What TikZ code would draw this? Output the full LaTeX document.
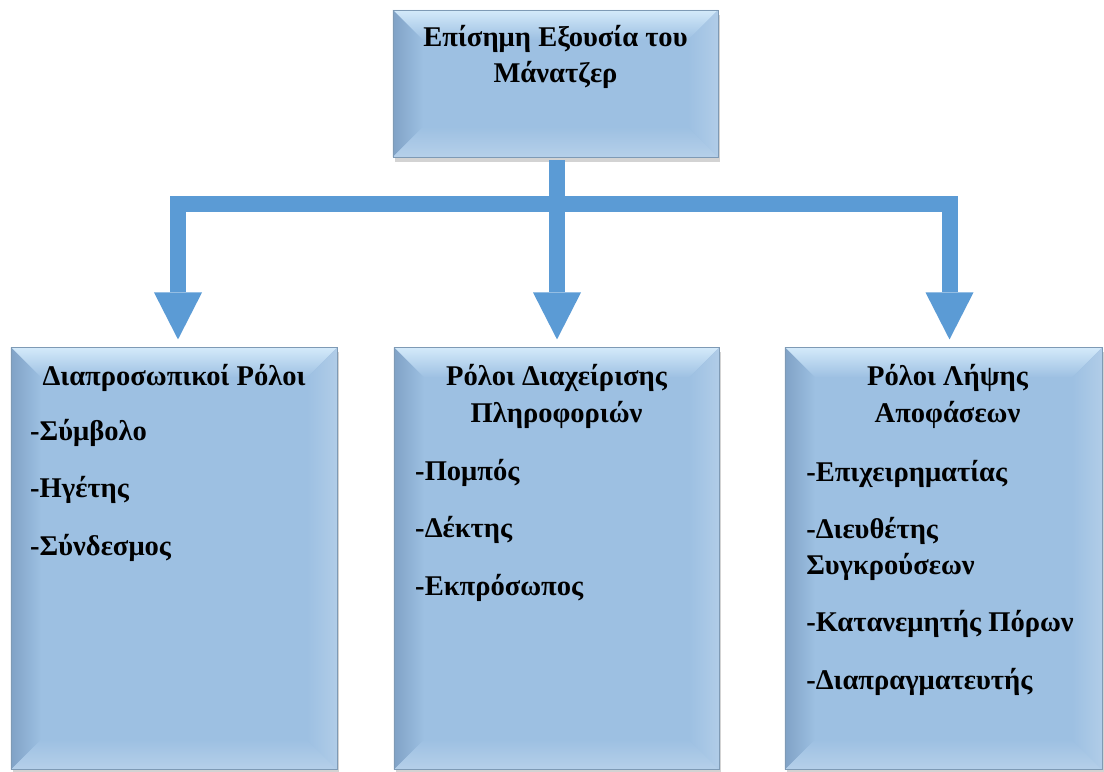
\documentclass[tikz,border=0pt]{standalone}
\usepackage{fontspec}
\setmainfont{Liberation Serif}
\usetikzlibrary{arrows.meta,calc,shadows,positioning}

\definecolor{boxblue}{RGB}{157,192,226}
\definecolor{arrowblue}{RGB}{91,155,213}
\definecolor{bevlight}{RGB}{212,234,250}
\definecolor{bevdark}{RGB}{128,162,198}

\tikzset{
  panel/.style={rectangle, fill=boxblue, inner sep=0pt, outer sep=0pt,
    drop shadow={shadow xshift=0.05cm, shadow yshift=-0.12cm, opacity=0.35}},
  bigarrow/.style={draw=arrowblue, line width=0.4cm, line join=miter,
    -{Triangle[width=1.2cm,length=1.175cm,line width=0pt]}},
  headtxt/.style={font=\bfseries\fontsize{20.3}{26}\selectfont, align=center, inner sep=0pt},
  itemtxt/.style={font=\bfseries\fontsize{20.3}{25}\selectfont, align=left, inner sep=0pt}
}

% bevelled face of a panel
\newcommand{\bevelbox}[1]{%
  \shade[top color=bevlight, bottom color=boxblue] (#1.north west) -- (#1.north east) -- ($(#1.north east)+(-30,30)$) -- ($(#1.north west)+(30,30)$) -- cycle;
  \shade[left color=bevdark, right color=boxblue] (#1.north west) -- ($(#1.north west)+(30,30)$) -- ($(#1.south west)+(30,-30)$) -- (#1.south west) -- cycle;
  \shade[left color=boxblue, right color=boxblue!80!white] (#1.north east) -- ($(#1.north east)+(-30,30)$) -- ($(#1.south east)+(-30,-30)$) -- (#1.south east) -- cycle;
  \shade[top color=boxblue, bottom color=boxblue!75!white] ($(#1.south west)+(30,-30)$) -- ($(#1.south east)+(-30,-30)$) -- (#1.south east) -- (#1.south west) -- cycle;
  \draw[boxblue!80!black, line width=0.3pt] (#1.north west) rectangle (#1.south east);
}

\begin{document}
\begin{tikzpicture}[x=0.025cm, y=-0.025cm]
  \useasboundingbox (0,0) rectangle (1104,771);

  \node[panel, minimum width=8.125cm, minimum height=3.675cm] (boss) at (555.5,83.5) {};
  \node[panel, minimum width=8.15cm, minimum height=10.55cm] (interp) at (174,558.5) {};
  \node[panel, minimum width=8.125cm, minimum height=10.55cm] (info) at (556.5,558.5) {};
  \node[panel, minimum width=7.925cm, minimum height=10.55cm] (decis) at (943.5,558.5) {};
  \bevelbox{boss}
  \bevelbox{interp}
  \bevelbox{info}
  \bevelbox{decis}

  % connectors
  \coordinate (hub) at (557,204);
  \draw[bigarrow] (hub) -| ($(interp.north)+(4,-8)$);
  \draw[bigarrow] (hub) -| ($(decis.north)+(6,-8)$);
  \draw[bigarrow] ($(boss.south)+(1.5,3)$) -- ($(info.north)+(0.5,-8)$);

  % texts (anchor base = last line)
  \node[headtxt, anchor=base] (bosstxt) at ($(boss.north)+(0,73)$) {Επίσημη Εξουσία του\\Μάνατζερ};

  \node[headtxt, anchor=base] (interphead) at ($(interp.north)+(0,38)$) {Διαπροσωπικοί Ρόλοι};
  \node[itemtxt, anchor=base west] (interplist) at ($(interp.north west)+(19,208)$)
    {-Σύμβολο\\[16pt]-Ηγέτης\\[16pt]-Σύνδεσμος};

  \node[headtxt, anchor=base] (infohead) at ($(info.north)+(0,75)$) {Ρόλοι Διαχείρισης\\Πληροφοριών};
  \node[itemtxt, anchor=base west] (infolist) at ($(info.north west)+(21,248)$)
    {-Πομπός\\[16pt]-Δέκτης\\[16pt]-Εκπρόσωπος};

  \node[headtxt, anchor=base] (decishead) at ($(decis.north)+(4,75)$) {Ρόλοι Λήψης\\Αποφάσεων};
  \node[itemtxt, anchor=base west] (decislist) at ($(decis.north west)+(21,342)$)
    {-Επιχειρηματίας\\[16pt]-Διευθέτης\\Συγκρούσεων\\[16pt]-Κατανεμητής Πόρων\\[16pt]-Διαπραγματευτής};
\end{tikzpicture}
\end{document}
